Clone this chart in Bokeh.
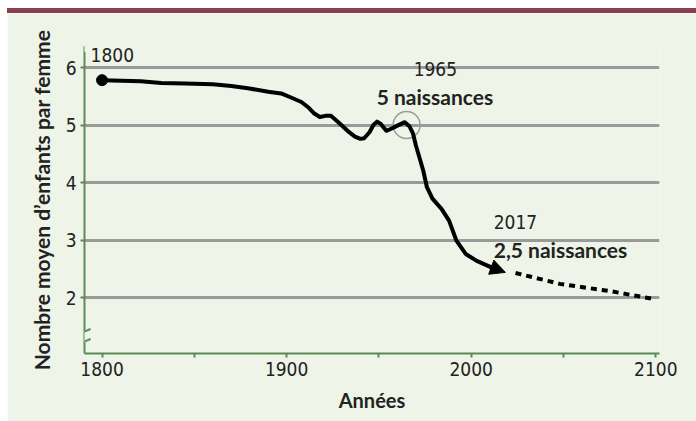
from bokeh.plotting import figure
from bokeh.models import (Range1d, FixedTicker, Label, Arrow, NormalHead, Div, ColumnDataSource)
from bokeh.layouts import column
from bokeh.embed import file_html
from bokeh.resources import INLINE

# ---- data ----
years = [1800, 1821, 1832, 1845, 1860, 1870, 1879, 1890, 1897, 1903, 1908, 1912,
         1915, 1918, 1921, 1924, 1928, 1933, 1937, 1940, 1942, 1945, 1947, 1949,
         1951, 1954, 1957, 1960, 1964, 1966.5, 1968.5, 1970, 1974, 1976, 1979,
         1984, 1988, 1992, 1997, 2003, 2010]
births = [5.78, 5.76, 5.73, 5.72, 5.71, 5.68, 5.64, 5.58, 5.55, 5.47, 5.40, 5.30,
          5.20, 5.14, 5.16, 5.16, 5.05, 4.90, 4.80, 4.76, 4.77, 4.88, 5.00, 5.06,
          5.02, 4.90, 4.94, 4.99, 5.05, 4.98, 4.85, 4.65, 4.21, 3.92, 3.72,
          3.54, 3.34, 2.99, 2.76, 2.64, 2.54]
arrow_years = [2010, 2018.5]
arrow_births = [2.54, 2.44]
proj_years = [2024, 2048, 2076, 2100]
proj_births = [2.43, 2.24, 2.11, 1.97]
start_year, start_births = 1800, 5.78
peak_year, peak_births = 1965, 5.0
x_ticks = [1800, 1850, 1900, 1950, 2000, 2050, 2100]
x_tick_labels = {1850: "", 1950: "", 2050: ""}
y_ticks = [2, 3, 4, 5, 6]

BG = "#eef4e7"
GREEN = "#5b8a57"
GRID = "#9a9a9a"
TXT = "#222222"
NUM_FONT = "'DejaVu Sans Condensed', Roboto"
BOLD_FONT = "Lato"
X0, X1 = 1790.5, 2102
Y0, Y1 = 1.03, 6.365

p = figure(width=689, height=408, x_range=Range1d(X0, X1), y_range=Range1d(Y0, Y1),
           output_backend="svg", toolbar_location=None, margin=(0, 0, 0, 7),
           min_border_left=77, min_border_right=37, min_border_top=33, min_border_bottom=68)
p.background_fill_color = BG
p.border_fill_color = BG
p.outline_line_color = None

p.xgrid.visible = False
p.ygrid.ticker = FixedTicker(ticks=y_ticks)
p.ygrid.grid_line_color = GRID
p.ygrid.grid_line_width = 3

for ax in (p.xaxis[0], p.yaxis[0]):
    ax.axis_line_color = GREEN
    ax.axis_line_width = 2
    ax.major_tick_line_color = GREEN
    ax.major_tick_line_width = 2
    ax.major_tick_out = 4
    ax.major_tick_in = 0
    ax.minor_tick_line_color = None
    ax.major_label_text_font = NUM_FONT
    ax.major_label_text_font_size = "19px"
    ax.major_label_text_color = TXT
    ax.major_label_standoff = 4
    ax.axis_label_text_font = BOLD_FONT
    ax.axis_label_text_font_style = "bold"
    ax.axis_label_text_color = TXT

p.xaxis.ticker = FixedTicker(ticks=x_ticks)
p.xaxis.major_label_overrides = x_tick_labels
p.xaxis.axis_label = "Années"
p.xaxis.axis_label_text_font_size = "20px"
p.xaxis.axis_label_standoff = 9
p.yaxis.ticker = FixedTicker(ticks=y_ticks)
p.yaxis.axis_label = "Nombre moyen d\u2019enfants par femme"
p.yaxis.axis_label_text_font_size = "21px"
p.yaxis.axis_label_standoff = 9

# circle around 1965 peak
p.scatter([peak_year], [peak_births], size=27, fill_color=None, line_color=GRID, line_width=1.5)

# main curve
src = ColumnDataSource(dict(x=years, y=births))
p.line("x", "y", source=src, line_color="black", line_width=4, line_join="round", line_cap="round")
p.scatter([start_year], [start_births], size=11, color="black")

# arrow at end of observed data
p.add_layout(Arrow(end=NormalHead(size=15, fill_color="black", line_color="black"),
                   x_start=arrow_years[0], y_start=arrow_births[0],
                   x_end=arrow_years[1], y_end=arrow_births[1],
                   line_color="black", line_width=4))

# projection
p.line(proj_years, proj_births, line_color="black", line_width=4, line_dash="6 5")

# trim top of y axis line, axis break
p.add_layout(Arrow(end=None, x_start=X0, y_start=6.265, x_end=X0, y_end=Y1,
                   line_color=BG, line_width=6, level="overlay"))
p.add_layout(Arrow(end=None, x_start=X0, y_start=1.22, x_end=X0, y_end=1.43,
                   line_color=BG, line_width=5, level="overlay"))
for y0 in (1.195, 1.369):
    p.add_layout(Arrow(end=None, x_start=1787.3, y_start=y0, x_end=1793.8, y_end=y0 + 0.087,
                       line_color=GREEN, line_width=2, level="overlay"))

FIX = 0.15  # baseline compensation (data units)

def lab(x, y, t, bold=False):
    p.add_layout(Label(x=x, y=y + FIX, text=t, text_font=BOLD_FONT if bold else NUM_FONT,
                       text_font_style="bold" if bold else "normal",
                       text_font_size="21px" if bold else "19px", text_color=TXT,
                       text_baseline="alphabetic", text_align="left"))

lab(1793.8, 6.07, "1800")
lab(1968.8, 5.83, "1965")
lab(1948.8, 5.34, "5 naissances", True)
lab(2012.2, 3.17, "2017")
lab(2012.2, 2.68, "2,5 naissances", True)

bar = Div(text="", width=689, height=5, margin=(8, 0, 0, 7),
          styles={"background-color": "#8a4050"})
layout = column(bar, p, spacing=0)

open("out.html", "w").write(file_html(layout, INLINE))
